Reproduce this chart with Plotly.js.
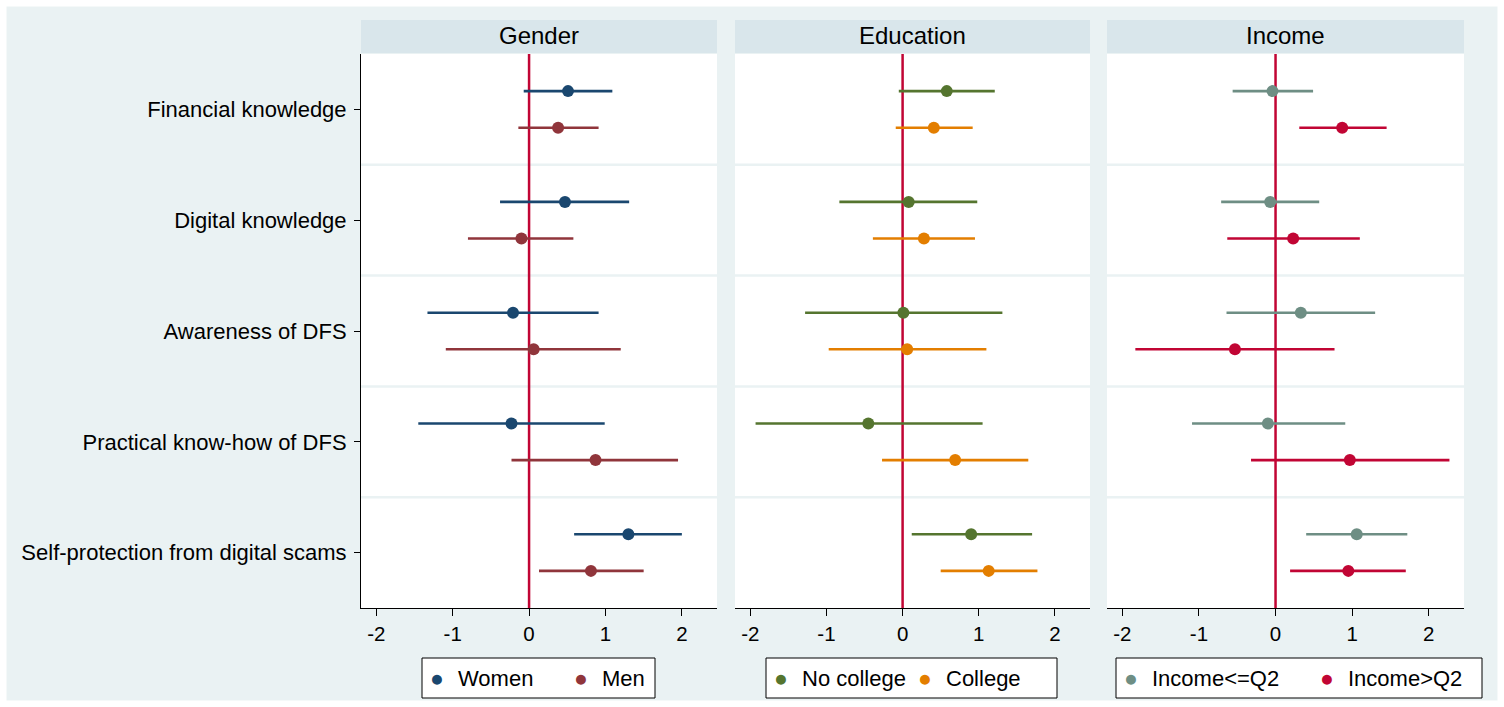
<!DOCTYPE html>
<html><head><meta charset="utf-8">
<script src="https://cdn.plot.ly/plotly-3.0.1.min.js"></script>
<style>html,body{margin:0;padding:0;background:#fff}#chart{width:1504px;height:707px}</style>
</head><body><div id="chart"></div>
<script>
// ---- data ----
const categories = ['Financial knowledge','Digital knowledge','Awareness of DFS','Practical know-how of DFS','Self-protection from digital scams'];
const panelTitles = ['Gender','Education','Income'];
const xTicks = [-2,-1,0,1,2];

const women    = [0.51, 0.47, -0.21, -0.23, 1.30];
const womenLo  = [-0.07, -0.38, -1.33, -1.45, 0.59];
const womenHi  = [1.09, 1.31, 0.91, 0.99, 2.00];
const men      = [0.38, -0.10, 0.06, 0.87, 0.81];
const menLo    = [-0.14, -0.80, -1.09, -0.23, 0.13];
const menHi    = [0.91, 0.58, 1.20, 1.95, 1.50];

const noCollege   = [0.58, 0.08, 0.01, -0.45, 0.90];
const noCollegeLo = [-0.05, -0.83, -1.28, -1.93, 0.12];
const noCollegeHi = [1.21, 0.98, 1.31, 1.05, 1.70];
const college     = [0.41, 0.28, 0.06, 0.69, 1.13];
const collegeLo   = [-0.09, -0.39, -0.97, -0.27, 0.50];
const collegeHi   = [0.92, 0.95, 1.10, 1.65, 1.77];

const incLow    = [-0.04, -0.07, 0.33, -0.10, 1.06];
const incLowLo  = [-0.56, -0.71, -0.64, -1.09, 0.40];
const incLowHi  = [0.49, 0.57, 1.30, 0.91, 1.72];
const incHigh   = [0.87, 0.23, -0.53, 0.97, 0.95];
const incHighLo = [0.31, -0.63, -1.83, -0.32, 0.19];
const incHighHi = [1.45, 1.10, 0.77, 2.27, 1.70];

// ---- styling ----
const FONT = 'Arial, "Liberation Sans", sans-serif';
const W = 1504, H = 707;
const px = v => v / W, py = v => 1 - v / H;
const panels = [
  {title: panelTitles[0], dom: [px(361), px(717)], series: [
    {name: 'Women', v: women, lo: womenLo, hi: womenHi, color: '#1A476F'},
    {name: 'Men', v: men, lo: menLo, hi: menHi, color: '#90353B'}],
   legend: {box: [422, 655], items: [[437, 458], [581, 602]]}},
  {title: panelTitles[1], dom: [px(735), px(1090)], series: [
    {name: 'No college', v: noCollege, lo: noCollegeLo, hi: noCollegeHi, color: '#55752F'},
    {name: 'College', v: college, lo: collegeLo, hi: collegeHi, color: '#E37E00'}],
   legend: {box: [766, 1057], items: [[781, 802], [925, 946]]}},
  {title: panelTitles[2], dom: [px(1107), px(1464)], series: [
    {name: 'Income<=Q2', v: incLow, lo: incLowLo, hi: incLowHi, color: '#6E8E84'},
    {name: 'Income>Q2', v: incHigh, lo: incHighLo, hi: incHighHi, color: '#C10534'}],
   legend: {box: [1116, 1482], items: [[1131, 1152], [1327, 1348]]}}
];
const yDom = [py(608), py(54)];
const catPos = categories.map((c, i) => i + 1);
const offsets = [-0.165, 0.165];

const traces = [];
const shapes = [];
const annotations = [];
const layout = {
  width: W, height: H,
  margin: {l: 0, r: 0, t: 0, b: 0},
  paper_bgcolor: '#EAF2F3', plot_bgcolor: '#FFFFFF',
  showlegend: false,
  font: {family: FONT, color: '#000'},
};

panels.forEach((p, k) => {
  const n = k === 0 ? '' : String(k + 1);
  const xa = 'x' + n, ya = 'y' + n;
  p.series.forEach((s, j) => {
    traces.push({
      type: 'scatter', mode: 'markers', name: s.name,
      x: s.v, y: catPos.map(c => c + offsets[j]),
      xaxis: xa, yaxis: ya,
      marker: {color: s.color, size: 12},
      error_x: {type: 'data', symmetric: false,
        array: s.hi.map((h, i) => h - s.v[i]),
        arrayminus: s.lo.map((l, i) => s.v[i] - l),
        color: s.color, thickness: 2.6, width: 0},
      cliponaxis: false
    });
  });
  layout['xaxis' + n] = {
    domain: p.dom, anchor: ya, range: [-2.2, 2.46],
    tickvals: xTicks, ticktext: xTicks.map(String),
    ticks: 'outside', ticklen: 7, tickcolor: '#000', tickwidth: 1,
    showline: true, linecolor: '#000', linewidth: 1,
    showgrid: false, zeroline: false,
    tickfont: {size: 20.5, family: FONT, color: '#000'}, fixedrange: true
  };
  layout['yaxis' + n] = {
    domain: yDom, anchor: xa, range: [5.5, 0.5],
    tickvals: catPos, ticktext: categories,
    showticklabels: k === 0, ticks: k === 0 ? 'outside' : '',
    ticklen: 6, tickcolor: '#000', ticklabelstandoff: 3,
    showline: k === 0, linecolor: '#000', linewidth: 1,
    showgrid: false, zeroline: false,
    tickfont: {size: 22, family: FONT, color: '#000'}, fixedrange: true
  };
  // separators between categories
  [1.5, 2.5, 3.5, 4.5].forEach(yv => shapes.push({
    type: 'line', xref: xa + ' domain', yref: ya, x0: 0, x1: 1, y0: yv, y1: yv,
    line: {color: '#EAF2F3', width: 2.5}, layer: 'below'}));
  // zero line
  shapes.push({type: 'line', xref: xa, yref: ya + ' domain', x0: 0, x1: 0, y0: 0, y1: 1,
    line: {color: '#C10534', width: 2.5}, layer: 'below'});
  // header strip
  shapes.push({type: 'rect', xref: 'paper', yref: 'paper', x0: p.dom[0], x1: p.dom[1],
    y0: py(53), y1: py(20), fillcolor: '#D9E6EB', line: {width: 0}, layer: 'below'});
  annotations.push({xref: 'paper', yref: 'paper', x: (p.dom[0] + p.dom[1]) / 2, y: py(35),
    text: p.title, showarrow: false, font: {size: 24, family: FONT, color: '#000'},
    xanchor: 'center', yanchor: 'middle'});
  // legend box
  shapes.push({type: 'rect', xref: 'paper', yref: 'paper', x0: px(p.legend.box[0]), x1: px(p.legend.box[1]),
    y0: py(698), y1: py(658), fillcolor: '#FFFFFF', line: {color: '#000', width: 1}, layer: 'above'});
  p.series.forEach((s, j) => {
    const it = p.legend.items[j];
    annotations.push({xref: 'paper', yref: 'paper', x: px(it[0]), y: py(678), text: '●',
      showarrow: false, font: {size: 23, color: s.color, family: FONT}, xanchor: 'center', yanchor: 'middle'});
    annotations.push({xref: 'paper', yref: 'paper', x: px(it[1] - 2), y: py(678), text: s.name,
      showarrow: false, font: {size: 22, color: '#000', family: FONT}, xanchor: 'left', yanchor: 'middle'});
  });
});

// white outer frame
shapes.push({type: 'rect', xref: 'paper', yref: 'paper', x0: 0, x1: 1, y0: 0, y1: 1,
  line: {color: '#FFFFFF', width: 13}, fillcolor: 'rgba(0,0,0,0)', layer: 'above'});

layout.shapes = shapes;
layout.annotations = annotations;

Plotly.newPlot('chart', traces, layout, {displayModeBar: false, staticPlot: true});
</script>
</body></html>
